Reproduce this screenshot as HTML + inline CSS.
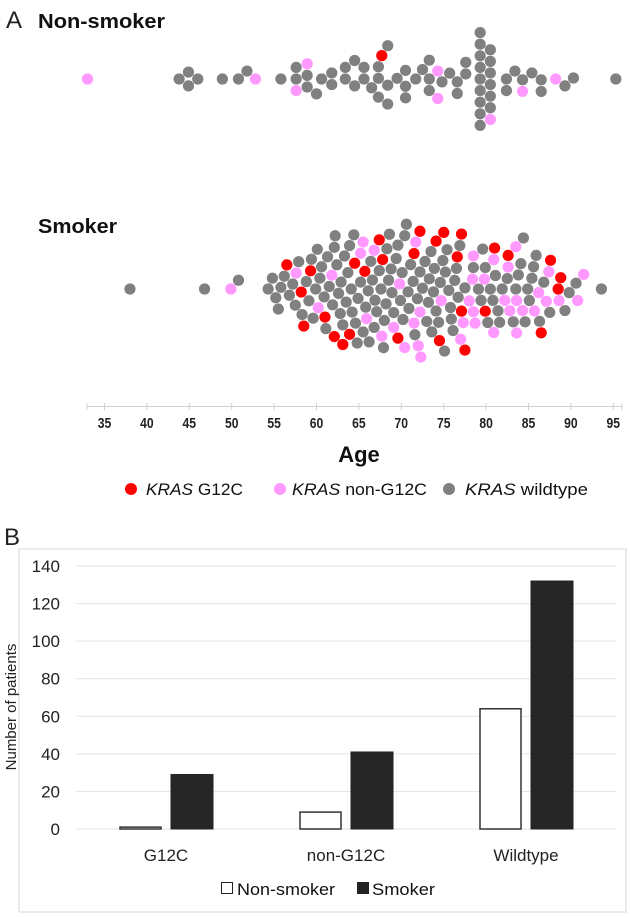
<!DOCTYPE html>
<html><head><meta charset="utf-8"><style>
html,body{margin:0;padding:0;background:#fff;}
svg{display:block;font-family:"Liberation Sans Narrow","Liberation Sans",sans-serif;}
</style></head><body>
<svg id="fig" width="630" height="917" viewBox="0 0 630 917">
  <text x="6" y="28" font-size="24" font-weight="200" fill="#222">A</text>
  <text x="38" y="28" font-size="20" font-weight="bold" fill="#111" textLength="127" lengthAdjust="spacingAndGlyphs">Non-smoker</text>
  <text x="38" y="233" font-size="20" font-weight="bold" fill="#111" textLength="79" lengthAdjust="spacingAndGlyphs">Smoker</text>
  <g id="swarm-ns"></g>
  <g id="swarm-s"></g>
  <g id="age-axis"></g>
  <text x="359" y="462" font-size="22" font-weight="bold" text-anchor="middle" fill="#111">Age</text>
  <g font-size="17" fill="#111">
    <g><circle cx="131" cy="489" r="6" fill="#ff0000"/><text x="146" y="495" textLength="97" lengthAdjust="spacingAndGlyphs"><tspan font-style="italic">KRAS</tspan> G12C</text></g>
    <g><circle cx="280" cy="489" r="6" fill="#ff99ff"/><text x="292" y="495" textLength="135" lengthAdjust="spacingAndGlyphs"><tspan font-style="italic">KRAS</tspan> non-G12C</text></g>
    <g><circle cx="449" cy="489" r="6" fill="#808080"/><text x="465" y="495" textLength="123" lengthAdjust="spacingAndGlyphs"><tspan font-style="italic">KRAS</tspan> wildtype</text></g>
  </g>
  <text x="4" y="545" font-size="24" font-weight="200" fill="#222">B</text>
  <rect x="19" y="549" width="607" height="363" fill="none" stroke="#d9d9d9" stroke-width="1"/>
  <g id="bar-chart"></g>
  <text transform="translate(16,707) rotate(-90)" font-size="15" text-anchor="middle" fill="#222">Number of patients</text>
  <g font-size="17" fill="#111">
    <g><rect x="221.5" y="882.5" width="11" height="11" fill="#fff" stroke="#222"/><text x="237" y="895" textLength="98" lengthAdjust="spacingAndGlyphs">Non-smoker</text></g>
    <g><rect x="357" y="882" width="12" height="12" fill="#222"/><text x="372" y="895" textLength="63" lengthAdjust="spacingAndGlyphs">Smoker</text></g>
  </g>
</svg>
<script>
// ---- Swarm data (ages) ----
const nsG12C = [67.7];
const nsNonG12C = [33, 52.8, 57.6, 58.9, 74.3, 74.3, 80.5, 84.3, 88.2];
const nsWildtype = [43.8,44.9,44.9,46,48.9,50.8,51.8,55.8,57.6,57.6,58.9,58.9,60,60.6,61.8,61.8,63.4,63.4,64.5,64.5,65.6,65.6,66.5,67.3,67.3,67.3,68.4,68.4,68.4,69.5,70.5,70.5,70.5,71.7,72.5,73.3,73.3,73.3,74.8,75.7,76.6,76.6,77.6,77.6,79.3,79.3,79.3,79.3,79.3,79.3,79.3,79.3,79.3,80.5,80.5,80.5,80.5,80.5,80.5,82.4,82.4,83.4,84.3,85.4,86.5,86.5,89.3,90.3,95.3];
const sG12C = [56.5,58.2,58.5,59.3,61.0,62.1,63.1,63.9,64.5,65.7,67.4,67.8,69.6,71.5,72.2,74.1,74.5,75.0,76.6,77.1,77.1,77.5,79.9,81.0,82.6,86.5,87.6,88.5,88.8];
const sNonG12C = [49.9,57.6,60.2,61.8,65.2,65.5,65.9,66.8,67.7,69.1,69.8,70.4,71.5,71.7,72.0,72.2,72.3,74.7,77.0,77.3,78.0,78.4,78.5,78.5,78.7,79.8,80.9,80.9,82.2,82.6,82.8,83.5,83.6,83.6,84.3,85.7,86.2,87.1,87.4,88.6,90.8,91.5];
const sWildtype = [38,46.8,50.8,54.3,54.8,55.2,55.5,55.8,56.2,56.8,57.2,57.5,57.9,58.3,58.8,59.1,59.4,59.6,59.9,60.1,60.4,60.6,60.9,61.1,61.3,61.5,61.9,62.1,62.2,62.4,62.6,62.8,62.9,63.1,63.3,63.5,63.7,63.9,64.1,64.2,64.4,64.6,64.8,64.9,65.2,65.5,65.8,66.1,66.2,66.4,66.6,66.8,66.9,67.1,67.4,67.6,67.9,68.0,68.2,68.3,68.5,68.6,68.8,68.9,69.1,69.4,69.6,69.9,70.1,70.2,70.4,70.6,70.8,70.9,71.1,71.4,71.6,71.9,72.2,72.5,72.8,73.0,73.2,73.3,73.5,73.6,73.8,73.9,74.1,74.4,74.6,74.9,75.1,75.2,75.4,75.6,75.8,75.9,76.1,76.3,76.5,76.7,76.9,77.5,78.5,79.1,79.4,79.6,79.9,80.2,80.5,80.8,81.1,81.4,81.6,81.9,82.5,83.2,83.5,83.8,84.1,84.4,84.6,84.9,85.1,85.4,85.6,85.9,86.3,86.8,87.5,89.3,89.8,90.6,93.6];
const ageTicks = [35,40,45,50,55,60,65,70,75,80,85,90,95];

// ---- Bar data ----
const barCategories = ["G12C","non-G12C","Wildtype"];
const nonSmokerCounts = [1, 9, 64];
const smokerCounts = [29, 41, 132];
const yTicks = [0,20,40,60,80,100,120,140];

const NS = "http://www.w3.org/2000/svg";
const COLORS = {g12c:"#ff0000", non:"#ff99ff", wt:"#808080"};
function xAge(a){ return 104.5 + (a - 35) * 8.48; }
function mk(tag, attrs, parent){ const e=document.createElementNS(NS,tag); for(const k in attrs) e.setAttribute(k,attrs[k]); parent.appendChild(e); return e; }

function swarm(groups, cy, parent, label){
  let pts=[];
  groups.forEach(g=>g.ages.forEach(a=>pts.push({age:a,type:g.type})));
  pts.sort((p,q)=>p.age-q.age);
  const d=11.6; const placed=[]; let flip=1;
  pts.forEach(p=>{
    const x=xAge(p.age);
    const cands=[0];
    placed.forEach(q=>{const dx=Math.abs(q.x-x); if(dx<d){const dy=Math.sqrt(d*d-dx*dx); cands.push(q.y+dy,q.y-dy);} });
    cands.sort((a,b)=>{const da=Math.abs(a)-Math.abs(b); if(Math.abs(da)>1e-6) return da; return flip*(b-a);});
    let y=0;
    for(const c of cands){ let ok=true; for(const q of placed){ const dx=q.x-x, dy=q.y-c; if(dx*dx+dy*dy<d*d-0.01){ok=false;break;} } if(ok){y=c;break;} }
    flip=-flip;
    placed.push({x,y});
    const c=mk("circle",{cx:x.toFixed(2),cy:(cy+y).toFixed(2),r:5.6,fill:COLORS[p.type]},parent);
    
    
  });
}
swarm([{ages:nsWildtype,type:"wt"},{ages:nsNonG12C,type:"non"},{ages:nsG12C,type:"g12c"}],79,document.getElementById("swarm-ns"),"non-smoker");
swarm([{ages:sWildtype,type:"wt"},{ages:sNonG12C,type:"non"},{ages:sG12C,type:"g12c"}],289,document.getElementById("swarm-s"),"smoker");

// age axis
const ax=document.getElementById("age-axis");
const axl=mk("line",{x1:87,y1:406.5,x2:622,y2:406.5,stroke:"#d0d0d0","stroke-width":1},ax);


[87,622].forEach(x=>mk("line",{x1:x,y1:403,x2:x,y2:410,stroke:"#d0d0d0"},ax));
ageTicks.forEach(t=>{
  const x=xAge(t);
  mk("line",{x1:x,y1:403,x2:x,y2:410,stroke:"#d0d0d0"},ax);
  const tx=mk("text",{x:x,y:428,"font-size":15,"font-weight":"bold","text-anchor":"middle",fill:"#222",textLength:13.5,lengthAdjust:"spacingAndGlyphs"},ax);
  tx.textContent=t;
  
  
});

// bar chart
const bc=document.getElementById("bar-chart");
const y0=829, pxPerUnit=(829-566)/140;
function yVal(v){ return y0 - v*pxPerUnit; }
yTicks.forEach(t=>{
  const gl=mk("line",{x1:76,x2:616,y1:yVal(t),y2:yVal(t),stroke:"#e3e3e3","stroke-width":1},bc);
  
  
  const tl=mk("text",{x:60,y:yVal(t)+6,"font-size":17,"text-anchor":"end",fill:"#222"},bc);
  tl.textContent=t;
  
  
});
const groupCenter=i=>166+i*180;
barCategories.forEach((c,i)=>{
  const cx=groupCenter(i);
  const b1=mk("rect",{x:cx-46,y:yVal(nonSmokerCounts[i]),width:41,height:Math.max(0,nonSmokerCounts[i]*pxPerUnit),fill:"#fff",stroke:"#333","stroke-width":1.5},bc);
  
  
  const b2=mk("rect",{x:cx+5,y:yVal(smokerCounts[i]),width:42,height:smokerCounts[i]*pxPerUnit,fill:"#262626",stroke:"#222","stroke-width":1},bc);
  
  
  const lb=mk("text",{x:cx,y:861,"font-size":17,"text-anchor":"middle",fill:"#222"},bc);
  lb.textContent=c;
  
  
});
</script>
</body></html>
